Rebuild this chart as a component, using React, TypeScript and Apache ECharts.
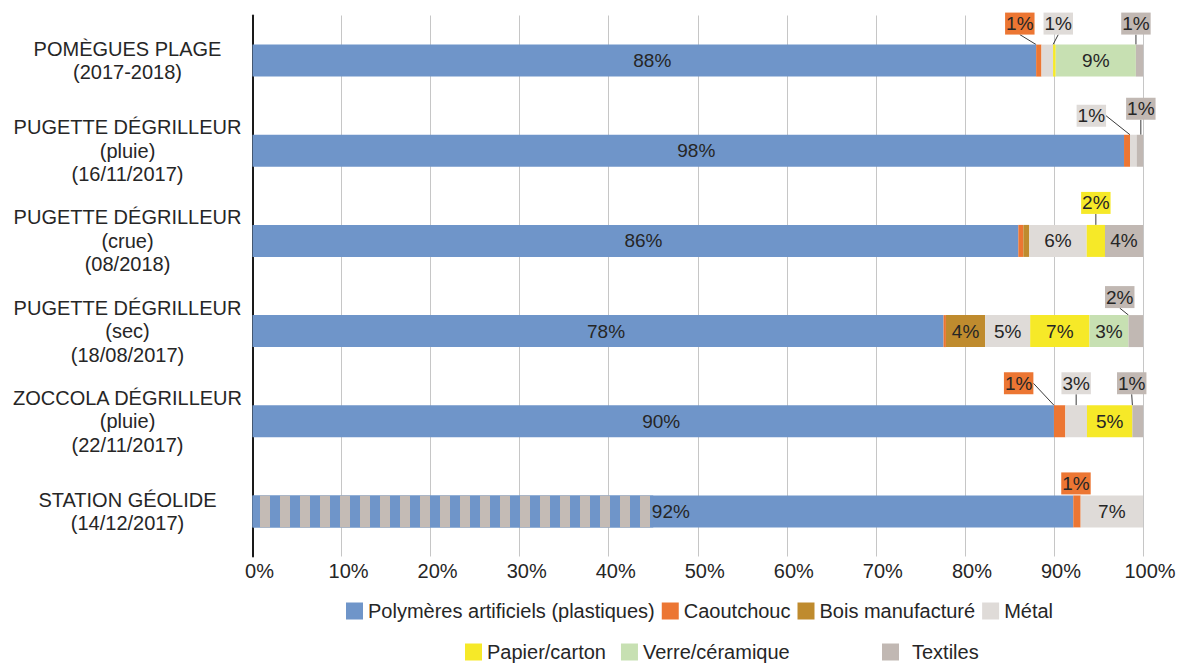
import React, { useEffect, useRef } from 'react';
import * as echarts from 'echarts';

// ---------- data ----------
const categories = [
  'POMÈGUES PLAGE\n(2017-2018)',
  'PUGETTE DÉGRILLEUR\n(pluie)\n(16/11/2017)',
  'PUGETTE DÉGRILLEUR\n(crue)\n(08/2018)',
  'PUGETTE DÉGRILLEUR\n(sec)\n(18/08/2017)',
  'ZOCCOLA DÉGRILLEUR\n(pluie)\n(22/11/2017)',
  'STATION GÉOLIDE\n(14/12/2017)',
];

const seriesNames = [
  'Polymères artificiels (plastiques)',
  'Caoutchouc',
  'Bois manufacturé',
  'Métal',
  'Papier/carton',
  'Verre/céramique',
  'Textiles',
];

const plastiques = [88.0, 97.87, 86.0, 77.6, 90.0, 92.17];
const caoutchouc = [0.6, 0.67, 0.56, 0.27, 1.28, 0.83];
const bois = [0, 0, 0.67, 4.41, 0, 0];
const metal = [1.3, 0.75, 6.45, 5.05, 2.43, 7.0];
const papier = [0.3, 0, 2.05, 6.66, 5.1, 0];
const verre = [9.0, 0, 0, 4.38, 0, 0];
const textiles = [0.8, 0.71, 4.27, 1.65, 1.19, 0];
// hatched (striped) part of the plastics bar, Station Géolide only
const hachures = [0, 0, 0, 0, 0, 45.0];

const plastiquesLabels = ['88%', '98%', '86%', '78%', '90%', '92%'];
const caoutchoucLabels = ['1%', '', '', '', '1%', '1%'];
const boisLabels = ['', '', '', '4%', '', ''];
const metalLabels = ['1%', '1%', '6%', '5%', '3%', '7%'];
const papierLabels = ['', '', '2%', '7%', '5%', ''];
const verreLabels = ['9%', '', '', '3%', '', ''];
const textilesLabels = ['1%', '1%', '4%', '2%', '1%', ''];

const xTicks = { min: 0, max: 100, interval: 10 };

// ---------- styling / layout ----------
const FONT = '"Liberation Sans", Arial, sans-serif';
const TEXT = '#262626';
const COLORS = ['#6f95c9', '#ec7633', '#bf8b2e', '#dfdbd8', '#f6e928', '#c7e0b2', '#c1b8b3'];
const STRIPE = '#c4bbb5';

// callout label shifts (dx, dy) relative to the default "top" position
const CALLOUTS: Record<string, Record<number, [number, number]>> = {
  'Caoutchouc': { 0: [-19, 0], 4: [-41, -1], 5: [-1, 9] },
  'Métal': { 0: [11, 0], 1: [-42, 2], 4: [0, -1] },
  'Papier/carton': { 2: [0, -1] },
  'Textiles': { 0: [-3.5, 0], 1: [1, -5], 3: [-16, 3], 4: [-6, -1] },
};
const NO_LEADER: Record<string, number[]> = { 'Caoutchouc': [5] };
const INSIDE_SHIFT = [8, 0, 0, 0, 0, 0, 0];

const defs = [
  { values: plastiques, labels: plastiquesLabels },
  { values: caoutchouc, labels: caoutchoucLabels },
  { values: bois, labels: boisLabels },
  { values: metal, labels: metalLabels },
  { values: papier, labels: papierLabels },
  { values: verre, labels: verreLabels },
  { values: textiles, labels: textilesLabels },
];

function buildSeries() {
  const list: any[] = defs.map((def, si) => {
    const name = seriesNames[si];
    const color = COLORS[si];
    const callouts = CALLOUTS[name] || {};
    return {
      type: 'bar',
      name,
      stack: 'total',
      barWidth: 32,
      barGap: '-100%',
      itemStyle: { color },
      label: { show: false, fontSize: 19, color: TEXT, fontFamily: FONT },
      labelLine: { show: false, lineStyle: { color: '#3a3a3a', width: 1 } },
      labelLayout: (p: any) => {
        const c = callouts[p.dataIndex];
        return c ? { dx: c[0], dy: c[1] } : { dx: INSIDE_SHIFT[si], dy: 0 };
      },
      data: def.values.map((v, i) => {
        const text = def.labels[i];
        if (!text) return { value: v, label: { show: false } };
        const c = callouts[i];
        if (c) {
          const noLine = (NO_LEADER[name] || []).indexOf(i) >= 0;
          return {
            value: v,
            label: {
              show: true,
              formatter: text,
              position: 'top',
              distance: 10,
              backgroundColor: color,
              padding: [1, 1, 1, 1],
              lineHeight: 20,
            },
            labelLine: { show: !noLine },
          };
        }
        return {
          value: v,
          label: { show: true, formatter: text, position: 'inside' },
        };
      }),
    };
  });
  list.push({
    type: 'bar',
    name: 'hachures',
    stack: 'hachures',
    barWidth: 32,
    barGap: '-100%',
    silent: true,
    itemStyle: {
      color: COLORS[0],
      decal: {
        symbol: 'rect',
        symbolSize: 1,
        symbolKeepAspect: false,
        color: STRIPE,
        dashArrayX: [10, 10],
        dashArrayY: [20, 0],
        rotation: 0,
      },
    },
    label: { show: false },
    data: hachures,
  });
  return list;
}

const legendText = { fontSize: 20, color: TEXT, fontFamily: FONT };

const option: any = {
  animation: false,
  backgroundColor: '#ffffff',
  textStyle: { fontFamily: FONT },
  grid: { left: 252.5, right: 40, top: 15.5, bottom: 107.5, containLabel: false },
  xAxis: {
    type: 'value',
    min: xTicks.min,
    max: xTicks.max,
    interval: xTicks.interval,
    axisLine: { show: false },
    axisTick: { show: false },
    splitLine: { show: true, lineStyle: { color: '#c6c6c6', width: 1 } },
    axisLabel: {
      formatter: '{value}%',
      fontSize: 20,
      color: TEXT,
      fontFamily: FONT,
      margin: 4,
      padding: [0, 0, 0, 14],
    },
  },
  yAxis: {
    type: 'category',
    inverse: true,
    data: categories,
    axisLine: { show: true, lineStyle: { color: '#1a1a1a', width: 2 } },
    axisTick: { show: false },
    axisLabel: {
      align: 'center',
      margin: 125,
      fontSize: 20,
      lineHeight: 23.5,
      color: TEXT,
      fontFamily: FONT,
    },
  },
  legend: [
    {
      data: seriesNames.slice(0, 4),
      left: 341,
      top: 596,
      itemWidth: 17,
      itemHeight: 17,
      itemGap: 7,
      icon: 'rect',
      selectedMode: false,
      textStyle: legendText,
    },
    {
      data: seriesNames.slice(4, 6),
      left: 460,
      top: 637,
      itemWidth: 17,
      itemHeight: 17,
      itemGap: 15,
      icon: 'rect',
      selectedMode: false,
      textStyle: legendText,
    },
    {
      data: seriesNames.slice(6),
      left: 877,
      top: 637,
      itemWidth: 17,
      itemHeight: 17,
      icon: 'rect',
      selectedMode: false,
      textStyle: { ...legendText, padding: [0, 0, 0, 8] },
    },
  ],
  series: buildSeries(),
};

export default function App() {
  const ref = useRef<HTMLDivElement>(null);
  useEffect(() => {
    if (!ref.current) return;
    const chart = echarts.init(ref.current, undefined, { renderer: 'svg' });
    chart.setOption(option);
    return () => chart.dispose();
  }, []);
  return (
    <div
      ref={ref}
      style={{ position: 'fixed', left: 0, top: 0, width: 1183, height: 664, background: '#fff' }}
    />
  );
}
